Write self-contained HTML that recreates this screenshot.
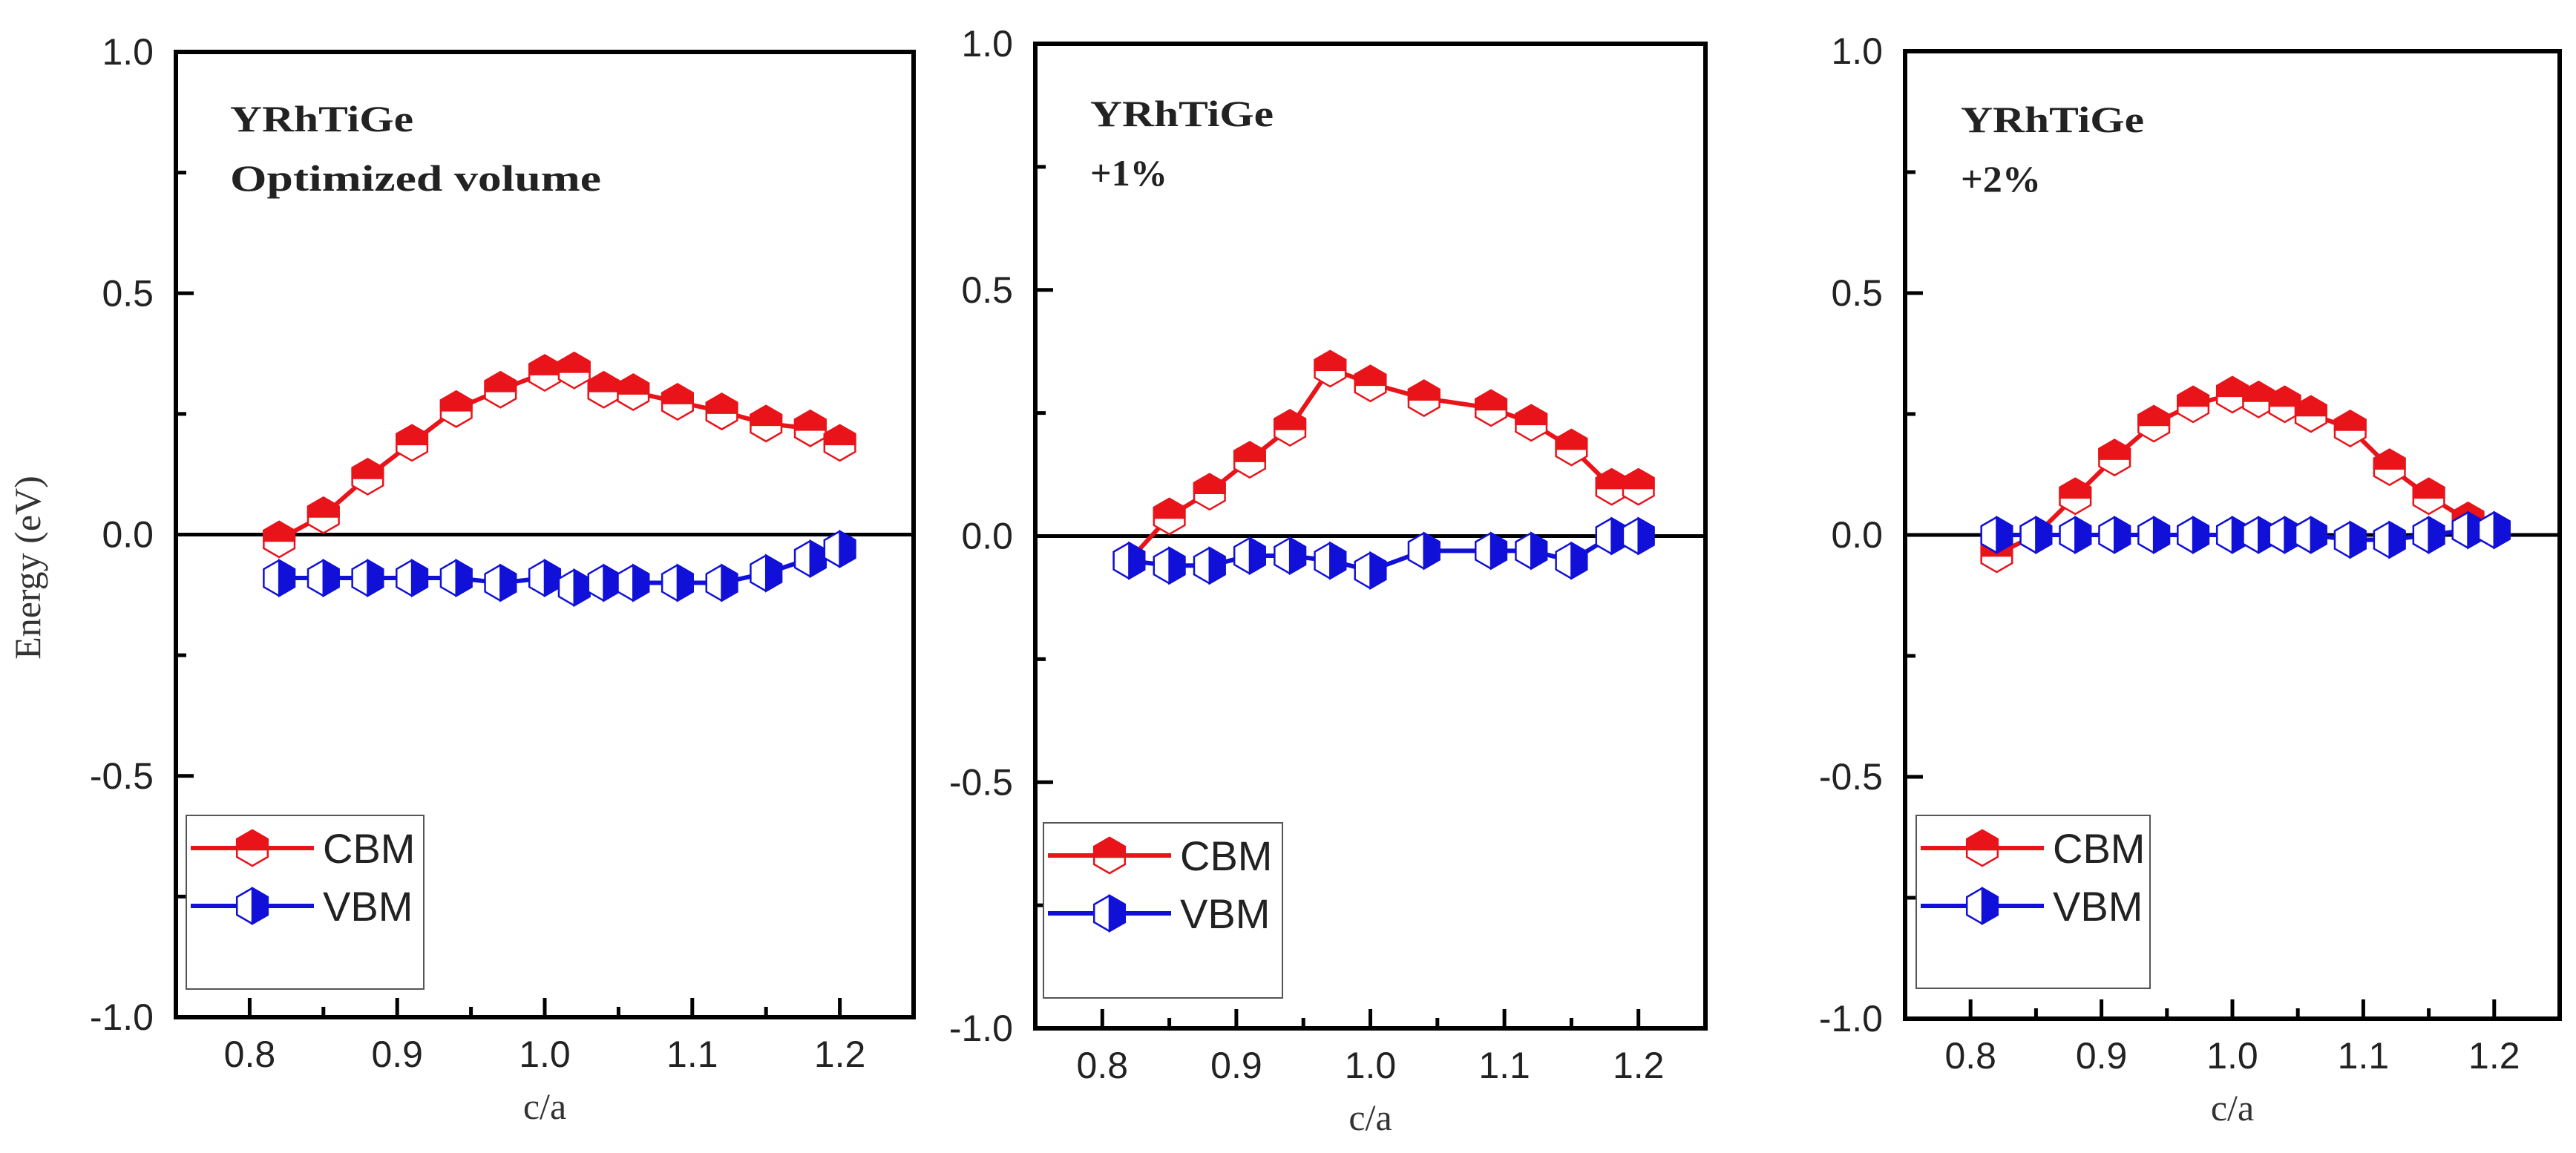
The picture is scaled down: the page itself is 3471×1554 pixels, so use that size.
<!DOCTYPE html>
<html><head><meta charset="utf-8"><style>
html,body{margin:0;padding:0;background:#fff;}
svg{display:block;}
</style></head>
<body>
<svg id="chart" width="3471" height="1554" viewBox="0 0 3471 1554" xmlns="http://www.w3.org/2000/svg">
<rect x="0" y="0" width="3471" height="1554" fill="#fff"/>
<text transform="translate(54,765) rotate(-90)" text-anchor="middle" font-family="Liberation Serif, serif" font-size="50" fill="#333">Energy (eV)</text>
</svg>
<script>
// ---- data ----
const xTickLabels = ["0.8","0.9","1.0","1.1","1.2"];
const xTickValues = [0.8,0.9,1.0,1.1,1.2];
const yTickLabels = ["1.0","0.5","0.0","-0.5","-1.0"];
const yTickValues = [1.0,0.5,0.0,-0.5,-1.0];

const p1X = [0.82,0.85,0.88,0.91,0.94,0.97,1.00,1.02,1.04,1.06,1.09,1.12,1.15,1.18,1.20];
const p1CBM = [-0.01,0.04,0.12,0.19,0.26,0.30,0.335,0.34,0.30,0.295,0.275,0.255,0.23,0.22,0.19];
const p1VBM = [-0.09,-0.09,-0.09,-0.09,-0.09,-0.10,-0.09,-0.11,-0.10,-0.10,-0.10,-0.10,-0.08,-0.05,-0.03];

const p2X = [0.82,0.85,0.88,0.91,0.94,0.97,1.00,1.04,1.09,1.12,1.15,1.18,1.20];
const p2CBM = [-0.05,0.04,0.09,0.155,0.22,0.34,0.31,0.28,0.26,0.23,0.18,0.10,0.10];
const p2VBM = [-0.05,-0.06,-0.06,-0.04,-0.04,-0.05,-0.07,-0.03,-0.03,-0.03,-0.05,0.00,0.00];

const p3X = [0.82,0.85,0.88,0.91,0.94,0.97,1.00,1.02,1.04,1.06,1.09,1.12,1.15,1.18,1.20];
const p3CBM = [-0.04,0.00,0.08,0.16,0.23,0.27,0.29,0.28,0.27,0.25,0.22,0.14,0.08,0.03,0.01];
const p3VBM = [0.00,0.00,0.00,0.00,0.00,0.00,0.00,0.00,0.00,0.00,-0.01,-0.01,0.00,0.01,0.01];

const panelTitles = ["YRhTiGe","YRhTiGe","YRhTiGe"];
const panelSubtitles = ["Optimized volume","+1%","+2%"];

// ---- layout ----
const NS = "http://www.w3.org/2000/svg";
const svg = document.getElementById("chart");
const RED = "#e8141a", BLUE = "#1010d8";
function mk(tag, attrs, parent){ const e=document.createElementNS(NS,tag); for(const k in attrs) e.setAttribute(k,attrs[k]); (parent||svg).appendChild(e); return e; }

const layouts = [
  {L:237,R:1231,T:70,B:1371, tx:310,ty:177,sy:257, tw:247, sw:500, lg:[251,1099,571,1333]},
  {L:1395,R:2298,T:59,B:1386, tx:1469,ty:170,sy:250, tw:247, sw:104, lg:[1406,1109,1728,1345]},
  {L:2567,R:3449,T:69,B:1373, tx:2642,ty:178,sy:258, tw:247, sw:108, lg:[2582,1099,2897,1332]}
];
const datasets = [[p1X,p1CBM,p1VBM],[p2X,p2CBM,p2VBM],[p3X,p3CBM,p3VBM]];

function hexPts(cx,cy,r){ let s=[]; for(let i=0;i<6;i++){const a=Math.PI/180*(90+60*i); s.push([cx+r*Math.cos(a), cy-r*Math.sin(a)]);} return s; }
function cbmMarker(g,cx,cy){
  const r=24, p=hexPts(cx,cy,r);
  mk("polygon",{points:p.map(q=>q.join(",")).join(" "),fill:"#fff",stroke:RED,"stroke-width":2.5},g);
  const top=[[cx,cy-r],[cx-r*0.866,cy-r/2],[cx-r*0.866,cy+2],[cx+r*0.866,cy+2],[cx+r*0.866,cy-r/2]];
  mk("polygon",{points:top.map(q=>q.join(",")).join(" "),fill:RED,stroke:RED,"stroke-width":2.5},g);
}
function vbmMarker(g,cx,cy){
  const r=24, p=hexPts(cx,cy,r);
  mk("polygon",{points:p.map(q=>q.join(",")).join(" "),fill:"#fff",stroke:BLUE,"stroke-width":2.5},g);
  const right=[[cx,cy-r],[cx+r*0.866,cy-r/2],[cx+r*0.866,cy+r/2],[cx,cy+r]];
  mk("polygon",{points:right.map(q=>q.join(",")).join(" "),fill:BLUE,stroke:BLUE,"stroke-width":2.5},g);
}

layouts.forEach((Lo,pi)=>{
  const g=mk("g",{});
  
  
  const xs=v=>Lo.L+(v-0.75)/0.5*(Lo.R-Lo.L);
  const ys=v=>Lo.B-(v+1)/2*(Lo.B-Lo.T);
  const zl=mk("line",{x1:Lo.L,x2:Lo.R,y1:ys(0),y2:ys(0),stroke:"#000","stroke-width":5},g);
  
  
  for(let v=-1;v<=1.001;v+=0.25){
    const major=Math.abs(v*2-Math.round(v*2))<1e-6;
    mk("line",{x1:Lo.L,x2:Lo.L+(major?24:14),y1:ys(v),y2:ys(v),stroke:"#000","stroke-width":5},g);
  }
  yTickValues.forEach((v,i)=>{
    const t=mk("text",{x:Lo.L-30,y:ys(v)+17,"text-anchor":"end","font-family":"Liberation Sans, sans-serif","font-size":50,fill:"#222"},g);
    t.textContent=yTickLabels[i];
    
    
  });
  for(let k=0;k<=8;k++){
    const v=0.8+k*0.05, major=k%2===0;
    mk("line",{x1:xs(v),x2:xs(v),y1:Lo.B,y2:Lo.B-(major?26:14),stroke:"#000","stroke-width":5},g);
  }
  xTickValues.forEach((v,i)=>{
    const t=mk("text",{x:xs(v),y:Lo.B+67,"text-anchor":"middle","font-family":"Liberation Sans, sans-serif","font-size":50,fill:"#222"},g);
    t.textContent=xTickLabels[i];
    
    
  });
  const xt=mk("text",{x:(xs(1.0)),y:Lo.B+137,"text-anchor":"middle","font-family":"Liberation Serif, serif","font-size":50,fill:"#333"},g);
  xt.textContent="c/a";
  
  
  const fr=mk("rect",{x:Lo.L,y:Lo.T,width:Lo.R-Lo.L,height:Lo.B-Lo.T,fill:"none",stroke:"#000","stroke-width":6},g);
  
  
  const t1=mk("text",{x:Lo.tx,y:Lo.ty,"font-family":"Liberation Serif, serif","font-weight":"bold","font-size":50,fill:"#222",textLength:Lo.tw,lengthAdjust:"spacingAndGlyphs"},g);
  t1.textContent=panelTitles[pi];
  
  
  const t2=mk("text",{x:Lo.tx,y:Lo.sy,"font-family":"Liberation Serif, serif","font-weight":"bold","font-size":50,fill:"#222",textLength:Lo.sw,lengthAdjust:"spacingAndGlyphs"},g);
  t2.textContent=panelSubtitles[pi];
  
  
  const [X,C,V]=datasets[pi];
  const cl=mk("polyline",{points:X.map((x,i)=>xs(x)+","+ys(C[i])).join(" "),fill:"none",stroke:RED,"stroke-width":6},g);
  
  
  X.forEach((x,i)=>{ cbmMarker(g,xs(x),ys(C[i])); });
  const vl=mk("polyline",{points:X.map((x,i)=>xs(x)+","+ys(V[i])).join(" "),fill:"none",stroke:BLUE,"stroke-width":6},g);
  
  
  X.forEach((x,i)=>{ vbmMarker(g,xs(x),ys(V[i])); });
  const [lx1,ly1,lx2,ly2]=Lo.lg;
  const lg=mk("g",{},g);
  
  
  mk("rect",{x:lx1,y:ly1,width:lx2-lx1,height:ly2-ly1,fill:"#fff",stroke:"#555","stroke-width":2},lg);
  const cy1=ly1+44, cy2=ly1+122, mx=lx1+89;
  mk("line",{x1:lx1+6,x2:lx1+172,y1:cy1,y2:cy1,stroke:RED,"stroke-width":6},lg);
  cbmMarker(lg,mx,cy1);
  mk("line",{x1:lx1+6,x2:lx1+172,y1:cy2,y2:cy2,stroke:BLUE,"stroke-width":6},lg);
  vbmMarker(lg,mx,cy2);
  const le1=mk("text",{x:lx1+184,y:cy1+20,"font-family":"Liberation Sans, sans-serif","font-size":56,fill:"#222"},lg);
  le1.textContent="CBM";
  
  
  const le2=mk("text",{x:lx1+184,y:cy2+20,"font-family":"Liberation Sans, sans-serif","font-size":56,fill:"#222"},lg);
  le2.textContent="VBM";
  
  
});
</script>
</body></html>
